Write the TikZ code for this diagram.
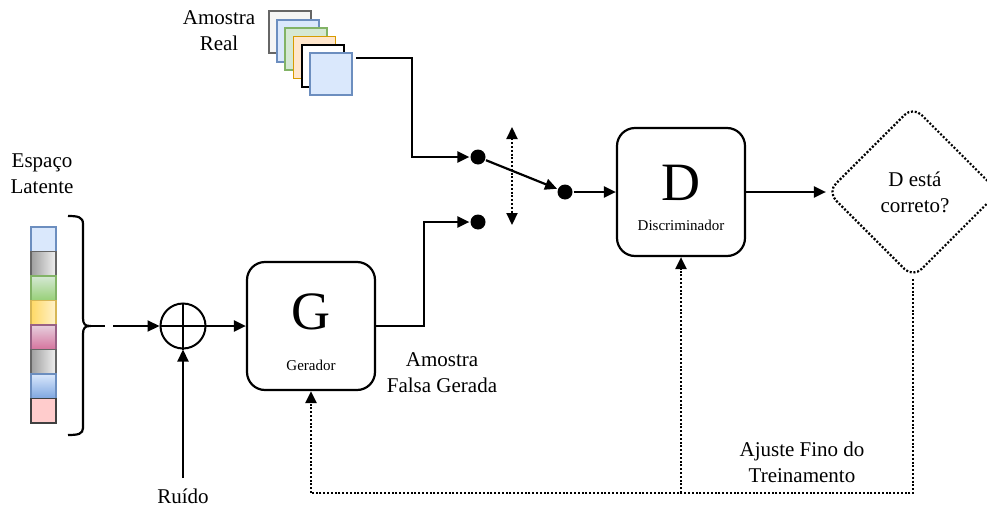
\documentclass[tikz,border=0pt]{standalone}
\usepackage{fontspec}
\setmainfont{Liberation Serif}
\usetikzlibrary{arrows.meta,shapes.geometric}
\begin{document}
\begin{tikzpicture}[x=1pt,y=-1pt,
 line width=2.2pt,
 arr/.style={-{Triangle[length=12pt,width=11pt]}},
 dotline/.style={line width=2.2pt, dash pattern=on 2pt off 1.8pt},
 blk/.style={draw, rounded corners=18pt, minimum width=128pt, minimum height=128pt, line width=2.2pt, inner sep=0},
 lbl/.style={font=\fontsize{21}{26}\selectfont, align=center, inner sep=0},
 big/.style={font=\fontsize{54}{54}\selectfont, inner sep=0},
 small/.style={font=\fontsize{15}{18}\selectfont, inner sep=0},
 dot/.style={circle, fill=black, inner sep=0, minimum size=15pt},
 cell/.style={draw, line width=1.2pt, minimum width=25pt, minimum height=24.5pt, inner sep=0},
 sq/.style={draw, line width=1.2pt, minimum size=42pt, inner sep=0},
]
\useasboundingbox (0,0) rectangle (987,506);

% real sample stack
\node[sq, draw=black!60, fill=black!4] (sq1) at (290,32) {};
\node[sq, draw={rgb,255:red,108;green,142;blue,191}, fill={rgb,255:red,218;green,232;blue,252}] (sq2) at (298,41) {};
\node[sq, draw={rgb,255:red,130;green,179;blue,102}, fill={rgb,255:red,213;green,232;blue,212}] (sq3) at (306,49) {};
\node[sq, draw={rgb,255:red,215;green,155;blue,0}, fill={rgb,255:red,255;green,230;blue,204}] (sq4) at (314.5,57.5) {};
\node[sq, draw=black, fill=white] (sq5) at (323,66) {};
\node[sq, draw={rgb,255:red,108;green,142;blue,191}, fill={rgb,255:red,218;green,232;blue,252}] (sq6) at (331,74) {};
\node[lbl] (real) at (219,31) {Amostra\\Real};

% latent space
\node[lbl] (lat) at (42,174) {Espaço\\Latente};
\node[cell, draw={rgb,255:red,108;green,142;blue,191}, fill={rgb,255:red,218;green,232;blue,252}] (c1) at (43.5,239.25) {};
\node[cell, draw=black!60, left color=black!38, right color=black!6] (c2) at (43.5,263.75) {};
\node[cell, draw={rgb,255:red,130;green,179;blue,102}, top color={rgb,255:red,213;green,232;blue,212}, bottom color={rgb,255:red,151;green,208;blue,119}] (c3) at (43.5,288.25) {};
\node[cell, draw={rgb,255:red,214;green,182;blue,86}, left color={rgb,255:red,255;green,217;blue,102}, right color={rgb,255:red,255;green,242;blue,204}] (c4) at (43.5,312.75) {};
\node[cell, draw={rgb,255:red,153;green,97;blue,133}, top color={rgb,255:red,230;green,208;blue,222}, bottom color={rgb,255:red,213;green,115;blue,157}] (c5) at (43.5,337.25) {};
\node[cell, draw=black!60, left color=black!38, right color=black!6] (c6) at (43.5,361.75) {};
\node[cell, draw={rgb,255:red,108;green,142;blue,191}, top color={rgb,255:red,218;green,232;blue,252}, bottom color={rgb,255:red,126;green,166;blue,224}] (c7) at (43.5,386.25) {};
\node[cell, draw=black!75, fill={rgb,255:red,255;green,204;blue,204}] (c8) at (43.5,410.75) {};

% brace
\coordinate (bt) at (90,326);
\draw (68,216) .. controls (78,216) and (83,217) .. (83,224) -- (83,318)
  .. controls (83,324) and (85,326) .. (bt)
  .. controls (85,326) and (83,328) .. (83,334) -- (83,428)
  .. controls (83,434) and (78,435) .. (68,435);

% sum
\node[circle, draw, minimum size=45pt, inner sep=0, line width=2pt] (sum) at (183,326) {};
\draw[line width=2pt] (sum.north) -- (sum.south) (sum.west) -- (sum.east);
\draw[arr, dash pattern=on 15pt off 8pt on 200pt off 0pt] (bt) -- (sum);
\node[lbl] (ruido) at (183,496) {Ruído};
\coordinate (n0) at (183,478);
\draw[arr] (n0) -- (sum.south);

% generator
\node[blk] (G) at (311,326) {};
\node[big] (Gl) at (311,312) {G};
\node[small] (Gs) at (311,365) {Gerador};
\draw[arr] (sum) -- (G);
\node[lbl] (fake) at (442,373) {Amostra\\Falsa Gerada};

% switch
\node[dot] (sw1) at (478,157) {};
\node[dot] (sw2) at (478,222) {};
\node[dot] (sw3) at (565,192) {};
\coordinate (k1) at (412,157);
\coordinate (k2) at (424,222);
\coordinate (rs) at (356,58);
\draw[arr] (rs) -| (k1) -- (sw1);
\draw[arr] (G.east) -| (k2) -- (sw2);
\draw[arr] (sw1) -- (sw3);
\coordinate (t1) at (512,127);
\coordinate (t2) at (512,225);
\draw[dotline, {Triangle[length=12pt,width=11pt]}-{Triangle[length=12pt,width=11pt]}] (t1) -- (t2);

% discriminator
\node[blk] (D) at (681,192) {};
\node[big] (Dl) at (681,183) {D};
\node[small] (Ds) at (681,225) {Discriminador};
\draw[arr] (sw3) -- (D);

% decision
\node[diamond, draw, dotline, rounded corners=12pt, minimum width=172pt, minimum height=172pt, inner sep=0] (chk) at (913,192) {};
\node[lbl] (chkt) at (915,192) {D está\\correto?};
\draw[arr] (D.east) -- (chk.west);

% feedback
\coordinate (b1) at (913,493);
\coordinate (b2) at (681,493);
\coordinate (b3) at (311,493);
\draw[dotline] (chk.south) -- (b1) -- (b3);
\draw[dotline, arr] (b3) -- (G.south);
\draw[dotline, arr] (b2) -- (D.south);
\node[lbl] (aj) at (802,462) {Ajuste Fino do\\Treinamento};
\end{tikzpicture}
\end{document}
